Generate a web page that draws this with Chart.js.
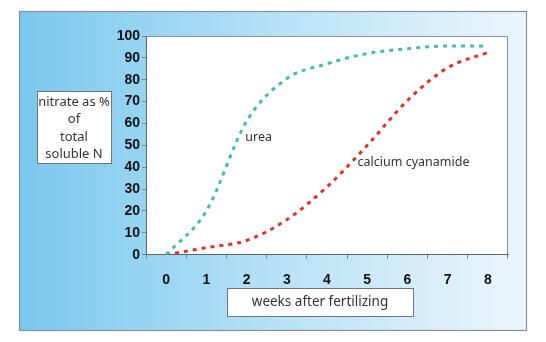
<!DOCTYPE html>
<html>
<head>
<meta charset="utf-8">
<script src="https://cdn.jsdelivr.net/npm/chart.js@4"></script>
<style>
  html, body { margin: 0; padding: 0; background: #fff; }
  canvas { display: block; }
</style>
</head>
<body>
<canvas id="chart" width="546" height="342"></canvas>
<script>
// weeks after fertilizing
const weeks = ["0", "1", "2", "3", "4", "5", "6", "7", "8"];
// nitrate as % of total soluble N
const urea = [0, 20, 61, 80.5, 87.3, 92, 94.2, 95.4, 95.4];
const calciumCyanamide = [0, 3.2, 6.5, 16, 31, 50, 70.5, 85.5, 92.5];
const yTicks = [0, 10, 20, 30, 40, 50, 60, 70, 80, 90, 100];

const textFont = '12.5px "Noto Sans", sans-serif';
const textColor = "#333";

// panel background, plot frame and the two axis title boxes
const panel = {
  id: "panel",
  beforeDraw(chart) {
    const ctx = chart.ctx;
    const a = chart.chartArea;
    ctx.save();
    ctx.fillStyle = "#fff";
    ctx.fillRect(0, 0, chart.width, chart.height);

    const g = ctx.createLinearGradient(19, 0, 526, 0);
    g.addColorStop(0, "rgb(122,200,238)");
    g.addColorStop(0.5, "rgb(182,225,246)");
    g.addColorStop(1, "rgb(236,246,252)");
    ctx.fillStyle = g;
    ctx.fillRect(19, 11, 507, 319);
    ctx.strokeStyle = "#8a8f94";
    ctx.lineWidth = 1.2;
    ctx.strokeRect(19.5, 11.5, 507, 319);

    ctx.fillStyle = "#fff";
    ctx.fillRect(a.left, a.top, a.right - a.left, a.bottom - a.top);
    ctx.strokeStyle = "#8c9196";
    ctx.lineWidth = 1;
    ctx.beginPath();
    ctx.moveTo(a.left, a.top + 0.5);
    ctx.lineTo(a.right - 0.5, a.top + 0.5);
    ctx.lineTo(a.right - 0.5, a.bottom);
    ctx.stroke();

    const box = (x, y, w, h) => {
      ctx.fillStyle = "#fff";
      ctx.fillRect(x, y, w, h);
      ctx.strokeStyle = "#6f757b";
      ctx.lineWidth = 1;
      ctx.strokeRect(x + 0.5, y + 0.5, w, h);
      ctx.fillStyle = textColor;
    };
    ctx.textAlign = "center";
    ctx.textBaseline = "middle";

    box(37, 91, 74, 72);
    ctx.font = '13px "Noto Sans", sans-serif';
    ["nitrate as %", "of", "total", "soluble N"].forEach((t, i) => {
      ctx.fillText(t, 74, 102 + i * 17.5);
    });

    box(227, 288, 186, 28);
    ctx.font = '13.5px "Noto Sans", sans-serif';
    ctx.fillText("weeks after fertilizing", 320, 302);
    ctx.restore();
  },
  afterDatasetsDraw(chart) {
    const ctx = chart.ctx;
    const x = chart.scales.x, y = chart.scales.y;
    ctx.save();
    ctx.font = textFont;
    ctx.fillStyle = textColor;
    ctx.textAlign = "left";
    ctx.textBaseline = "middle";
    ctx.fillText("urea", x.getPixelForValue(1.97), y.getPixelForValue(53.5));
    ctx.fillText("calcium cyanamide", x.getPixelForValue(4.76), y.getPixelForValue(42));
    ctx.restore();
  },
};

new Chart(document.getElementById("chart"), {
  type: "line",
  data: {
    labels: weeks,
    datasets: [
      {
        label: "urea",
        data: urea,
        borderColor: "rgb(66,188,172)",
        borderWidth: 3,
        borderDash: [4, 5],
        pointRadius: 0,
        cubicInterpolationMode: "monotone",
      },
      {
        label: "calcium cyanamide",
        data: calciumCyanamide,
        borderColor: "rgb(226,48,38)",
        borderWidth: 3,
        borderDash: [4, 5],
        pointRadius: 0,
        cubicInterpolationMode: "monotone",
      },
    ],
  },
  options: {
    responsive: false,
    animation: false,
    layout: { padding: { top: 36, right: 38, left: 0, bottom: 0 } },
    plugins: {
      legend: { display: false },
      tooltip: { enabled: false },
    },
    scales: {
      x: {
        offset: true,
        grid: {
          offset: true,
          drawOnChartArea: false,
          tickLength: 4,
          tickColor: "#7d848a",
        },
        border: { color: "#5f666c", width: 1 },
        ticks: {
          padding: 13,
          color: "#111",
          font: { family: '"Liberation Sans", Arial, sans-serif', size: 14, weight: "bold" },
        },
        afterFit: (s) => { s.height = 87.3; },
      },
      y: {
        min: 0,
        max: 100,
        afterBuildTicks: (s) => { s.ticks = yTicks.map((v) => ({ value: v })); },
        grid: {
          drawOnChartArea: false,
          tickLength: 4,
          tickColor: "#7d848a",
        },
        border: { color: "#5f666c", width: 1 },
        ticks: {
          padding: 2,
          color: "#111",
          font: { family: '"Liberation Sans", Arial, sans-serif', size: 14, weight: "bold" },
        },
        afterFit: (s) => { s.width = 146; },
      },
    },
  },
  plugins: [panel],
});
</script>
</body>
</html>
